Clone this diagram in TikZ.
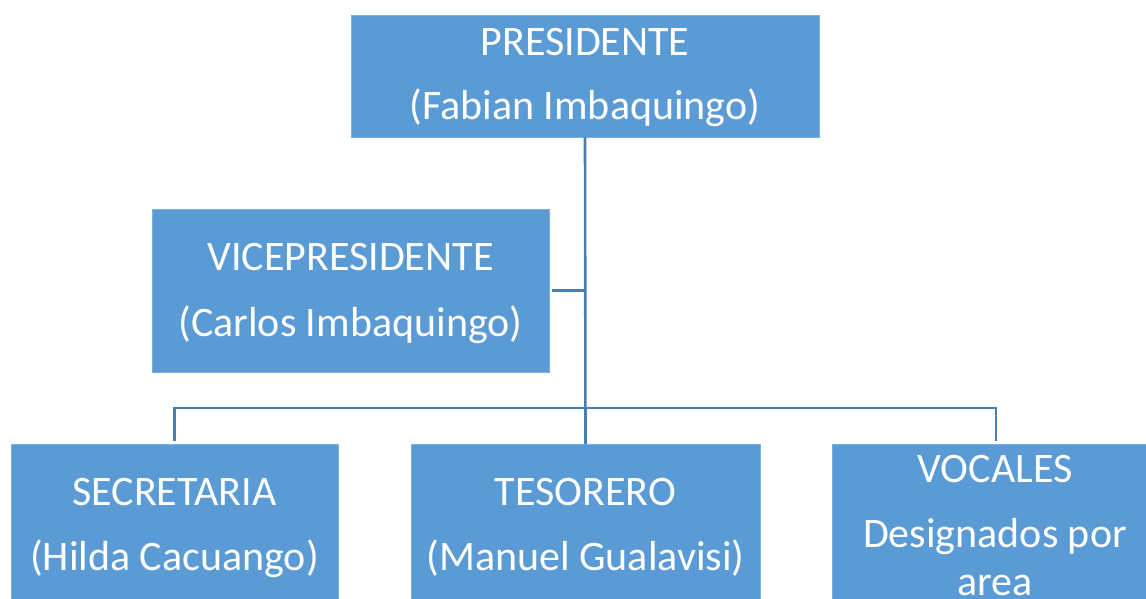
\documentclass[tikz,border=0pt]{standalone}
\usepackage{fontspec}
\setmainfont{Carlito}
\definecolor{boxblue}{HTML}{5B9BD5}
\definecolor{edgeblue}{HTML}{7DAFE0}
\definecolor{lineblue}{HTML}{4A7EB0}
\tikzset{
  orgbox/.style={rectangle, fill=boxblue, draw=edgeblue, line width=0.8pt, inner sep=0pt, outer sep=0pt},
  label/.style={anchor=base, text=white, inner sep=0pt, font=\fontsize{42}{50}\selectfont},
  conn/.style={draw=lineblue, line width=2.6pt}
}
\begin{document}
\begin{tikzpicture}[x=1pt,y=-1pt]
\useasboundingbox (0,0) rectangle (1146,599);
\clip (0,0) rectangle (1146,599);
% boxes
\node[orgbox, minimum width=468pt, minimum height=122pt] (pres) at (585,76) {};
\node[orgbox, minimum width=397pt, minimum height=163pt] (vice) at (350.5,290.5) {};
\node[orgbox, anchor=north, minimum width=327pt, minimum height=200pt] (secr) at (174.5,444) {};
\node[orgbox, anchor=north, minimum width=349pt, minimum height=200pt] (teso) at (585.5,444) {};
\node[orgbox, anchor=north, minimum width=328pt, minimum height=200pt] (voc) at (996,444) {};
% connectors
\coordinate (bus) at (585.5,408);
\draw[conn] (pres.south) -- (teso.north);
\draw[conn] ([xshift=3pt]vice.east) -- (vice.east -| pres.south);
\draw[conn] ([yshift=3pt]secr.north) |- (bus) -| ([yshift=3pt]voc.north);
% texts
\node[label] (t1a) at (585,56) {PRESIDENTE};
\node[label] (t1b) at (585,120) {(Fabian Imbaquingo)};
\node[label] (t2a) at (350.5,270) {VICEPRESIDENTE};
\node[label] (t2b) at (350.5,336) {(Carlos Imbaquingo)};
\node[label] (t3a) at (174.5,505) {SECRETARIA};
\node[label] (t3b) at (174.5,570) {(Hilda Cacuango)};
\node[label] (t4a) at (585.5,505) {TESORERO};
\node[label] (t4b) at (585.5,570) {(Manuel Gualavisi)};
\node[label] (t5a) at (995,482) {VOCALES};
\node[label] (t5b) at (995,547) {Designados por};
\node[label] (t5c) at (995,595) {area};
\end{tikzpicture}
\end{document}
